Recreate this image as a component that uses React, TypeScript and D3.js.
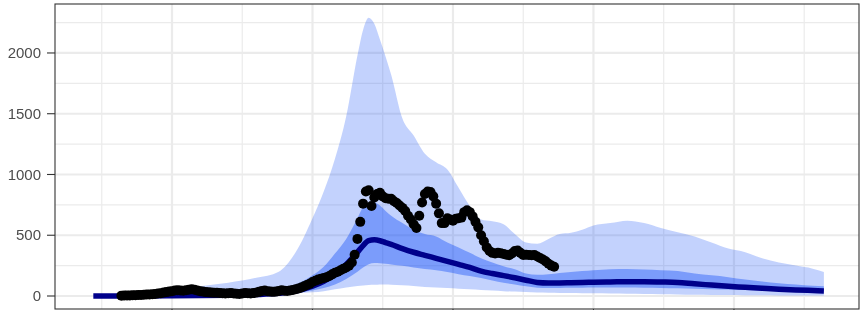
import React from 'react';
import * as d3 from 'd3';

const WIDTH = 860;
const HEIGHT = 310;
const PANEL = { left: 55, right: 859, top: 4, bottom: 309 };

// model days (x) and the fitted quantiles
const modelDays = [22, 30, 40, 50, 60, 70, 80, 88, 94, 100, 104, 108, 112, 116, 118, 120, 122, 124, 126, 128,
  132, 136, 140, 144, 148, 152, 156, 160, 164, 168, 172, 176, 180, 184, 188, 192, 196, 200, 206, 212, 218,
  224, 230, 236, 242, 248, 254, 260, 266, 272, 278, 282];

const outerUpper = [2, 5, 15, 45, 80, 110, 150, 200, 360, 640, 860, 1130, 1480, 1980, 2190, 2290, 2240, 2110,
  1970, 1820, 1460, 1320, 1170, 1100, 1040, 890, 740, 630, 615, 590, 510, 440, 430, 470, 510, 520, 545, 580,
  600, 620, 600, 560, 525, 490, 440, 390, 360, 310, 275, 250, 225, 198];

const outerLower = [0, 0, 1, 3, 5, 8, 12, 16, 22, 30, 40, 55, 70, 82, 86, 90, 92, 95, 94, 92, 88, 82, 75, 70,
  65, 60, 55, 50, 45, 40, 36, 32, 28, 27, 25, 24, 23, 22, 20, 18, 16, 14, 12, 10, 9, 8, 7, 6, 5, 5, 4, 4];

const innerUpper = [1, 2, 5, 10, 18, 28, 42, 62, 95, 170, 240, 350, 470, 640, 730, 770, 770, 745, 700, 660,
  600, 545, 510, 490, 440, 400, 355, 310, 275, 245, 220, 185, 175, 180, 190, 198, 205, 212, 220, 222, 218,
  212, 205, 185, 170, 155, 135, 120, 105, 95, 85, 80];

const innerLower = [0, 0, 1, 2, 4, 7, 11, 17, 28, 45, 65, 95, 140, 200, 235, 262, 272, 270, 265, 260, 248,
  235, 222, 212, 198, 180, 165, 148, 128, 110, 95, 80, 68, 66, 66, 67, 68, 69, 70, 70, 68, 66, 63, 60, 56,
  53, 50, 47, 45, 43, 41, 40];

const median = [0, 0, 1, 2, 4, 7, 12, 22, 40, 80, 120, 180, 260, 360, 415, 455, 462, 455, 440, 425, 390, 360,
  335, 310, 285, 260, 235, 205, 185, 168, 150, 130, 112, 108, 108, 110, 112, 114, 116, 117, 117, 115, 112,
  100, 90, 80, 72, 64, 56, 50, 45, 42];

// observed daily counts, day 32 onward
const obsStart = 32;
const observed = [3, 4, 4, 5, 6, 7, 8, 9, 10, 12, 13, 15, 17, 20, 22, 28, 32, 36, 40, 45, 48, 46, 44, 47, 52,
  55, 52, 46, 40, 36, 32, 30, 28, 26, 27, 25, 22, 20, 22, 24, 20, 18, 17, 20, 24, 22, 20, 24, 28, 34, 42, 45,
  40, 36, 34, 36, 42, 48, 44, 42, 45, 50, 56, 62, 70, 80, 90, 100, 115, 125, 135, 142, 148, 155, 165, 178,
  192, 200, 212, 225, 235, 250, 275, 340, 470, 610, 760, 860, 870, 740, 810, 840, 850, 820, 805, 800, 800,
  780, 765, 745, 725, 700, 660, 630, 590, 560, 660, 770, 840, 860, 855, 820, 760, 680, 600, 600, 640, 630,
  620, 635, 640, 645, 690, 705, 690, 655, 610, 565, 500, 450, 400, 370, 355, 350, 355, 352, 345, 340, 335,
  350, 370, 375, 355, 337, 340, 338, 335, 337, 325, 313, 300, 285, 265, 250, 240];

const yTicks = [0, 500, 1000, 1500, 2000];
const yMinor = [250, 750, 1250, 1750, 2250];
const xTicks = [50, 100, 150, 200, 250];
const xMinor = [25, 75, 125, 175, 225, 275];

const App = () => {
  const x = d3.scaleLinear().domain([8.36, 294.5]).range([PANEL.left, PANEL.right]);
  const y = d3.scaleLinear().domain([-107, 2403]).range([PANEL.bottom, PANEL.top]);

  const idx = d3.range(modelDays.length);
  const outerArea = d3.area<number>()
    .x(i => x(modelDays[i]))
    .y0(i => y(outerLower[i]))
    .y1(i => y(outerUpper[i]))
    .curve(d3.curveMonotoneX);
  const innerArea = d3.area<number>()
    .x(i => x(modelDays[i]))
    .y0(i => y(innerLower[i]))
    .y1(i => y(innerUpper[i]))
    .curve(d3.curveMonotoneX);
  const medianLine = d3.line<number>()
    .x(i => x(modelDays[i]))
    .y(i => y(median[i]))
    .curve(d3.curveMonotoneX);

  const band = '#0f4bf7';

  return (
    <div style={{ position: 'fixed', left: 0, top: 0 }}>
      <svg width={WIDTH} height={HEIGHT} style={{ display: 'block', fontFamily: 'Liberation Sans, Arial, sans-serif' }}>
        <defs>
          <clipPath id="panel">
            <rect x={PANEL.left} y={PANEL.top} width={PANEL.right - PANEL.left} height={PANEL.bottom - PANEL.top} />
          </clipPath>
        </defs>
        <rect x={PANEL.left} y={PANEL.top} width={PANEL.right - PANEL.left} height={PANEL.bottom - PANEL.top} fill="#fff" />

        {/* grid */}
        <g stroke="#ebebeb">
          {yMinor.map(v => (
            <line key={'ym' + v} x1={PANEL.left} x2={PANEL.right} y1={y(v)} y2={y(v)} strokeWidth={1.2} />
          ))}
          {xMinor.map(v => (
            <line key={'xm' + v} x1={x(v)} x2={x(v)} y1={PANEL.top} y2={PANEL.bottom} strokeWidth={1.2} />
          ))}
          {yTicks.map(v => (
            <line key={'y' + v} x1={PANEL.left} x2={PANEL.right} y1={y(v)} y2={y(v)} strokeWidth={2.2} />
          ))}
          {xTicks.map(v => (
            <line key={'x' + v} x1={x(v)} x2={x(v)} y1={PANEL.top} y2={PANEL.bottom} strokeWidth={2.2} />
          ))}
        </g>

        <g clipPath="url(#panel)">
          <path d={outerArea(idx) ?? ''} fill={band} fillOpacity={0.25} />
          <path d={innerArea(idx) ?? ''} fill={band} fillOpacity={0.4} />
          <path d={medianLine(idx) ?? ''} fill="none" stroke="#00008b" strokeWidth={5.5} />
          {observed.map((v, i) => (
            <circle key={i} cx={x(obsStart + i)} cy={y(v)} r={5} fill="#000" />
          ))}
        </g>

        <rect x={PANEL.left} y={PANEL.top} width={PANEL.right - PANEL.left} height={PANEL.bottom - PANEL.top}
          fill="none" stroke="#333" strokeWidth={1.1} />

        {/* y axis */}
        {yTicks.map(v => (
          <g key={'yt' + v}>
            <line x1={PANEL.left - 8} x2={PANEL.left} y1={y(v)} y2={y(v)} stroke="#333" strokeWidth={1.1} />
            <text x={PANEL.left - 14} y={y(v)} dy="0.35em" textAnchor="end" fontSize={15} fill="#4d4d4d">{v}</text>
          </g>
        ))}
        {/* x axis ticks (labels fall below the frame) */}
        {xTicks.map(v => (
          <line key={'xt' + v} x1={x(v)} x2={x(v)} y1={PANEL.bottom} y2={PANEL.bottom + 8} stroke="#333" strokeWidth={1.1} />
        ))}
      </svg>
    </div>
  );
};

export default App;
